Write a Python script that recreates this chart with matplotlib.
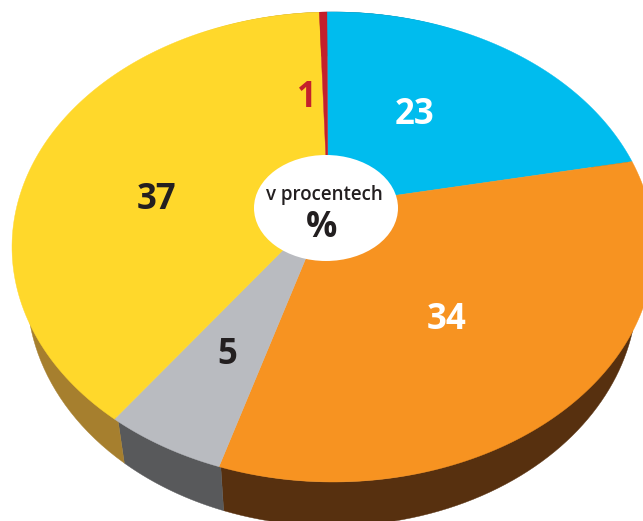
import numpy as np
import matplotlib
import matplotlib.pyplot as plt
from matplotlib.patches import Ellipse, Polygon

matplotlib.use("Agg")

# printed values and the slice sizes as they are drawn in the picture
labels = ["23", "34", "5", "37", "1"]
shares = [22.2, 33.0, 5.25, 39.1, 0.45]
top_colors = ["#00BCEE", "#F79321", "#B9BBC0", "#FFD82B", "#C4202C"]
side_colors = ["#00566F", "#57300F", "#58595B", "#A67F2E", "#6E1216"]
label_colors = ["white", "white", "#231F20", "#231F20", "#C4202C"]
label_pos = [(415, 115), (447, 320), (227, 355), (157, 200), (307, 98)]

plt.rcParams["font.family"] = ["Open Sans", "DejaVu Sans"]


def warp(theta, cx, cy, rx, ry, d=0.179):
    # tilted disc: the centre of the circle sits above the centre of the ellipse
    u = np.sin(theta)
    v = np.cos(theta)
    den = 1 + d * v
    return cx + rx * u * np.sqrt(1 - d**2) / den, cy - ry * (v + d) / den


fig = plt.figure(figsize=(6.43, 5.21), dpi=100)
ax = fig.add_axes([0, 0, 1, 1])
ax.set_xlim(0, 643)
ax.set_ylim(521, 0)
ax.axis("off")

edges = np.radians(np.concatenate([[0], np.cumsum(shares)]) * 3.6 - 1.3)

# side walls first, the top covers whatever should not show
for i in range(len(shares)):
    t = np.linspace(edges[i], edges[i + 1], 80)
    x1, y1 = warp(t, 333, 247, 316, 235)
    x2, y2 = warp(t, 332, 291, 305, 235)
    pts = np.column_stack([np.r_[x1, x2[::-1]], np.r_[y1, y2[::-1]]])
    ax.add_patch(Polygon(pts, fc=side_colors[i], ec=side_colors[i], lw=0.3, zorder=1))

for i in range(len(shares)):
    t = np.linspace(edges[i], edges[i + 1], 120)
    x, y = warp(t, 333, 247, 321, 235)
    pts = np.column_stack([np.r_[328, x], np.r_[205, y]])
    ax.add_patch(Polygon(pts, fc=top_colors[i], ec=top_colors[i], lw=0.3, zorder=2))

ax.add_patch(Ellipse((326, 208), 144, 106, fc="white", ec="none", zorder=3))

for lab, pos, col in zip(labels, label_pos, label_colors):
    ax.text(pos[0], pos[1], lab, color=col, fontsize=25, fontweight="bold",
            ha="center", va="center", zorder=4)

ax.text(324, 195, "v procentech", color="#231F20", fontsize=13.5, fontweight="semibold",
        ha="center", va="center", zorder=4)
ax.text(322, 228, "%", color="#231F20", fontsize=25, fontweight="bold",
        ha="center", va="center", zorder=4)

fig.savefig("out.png", dpi=100)
